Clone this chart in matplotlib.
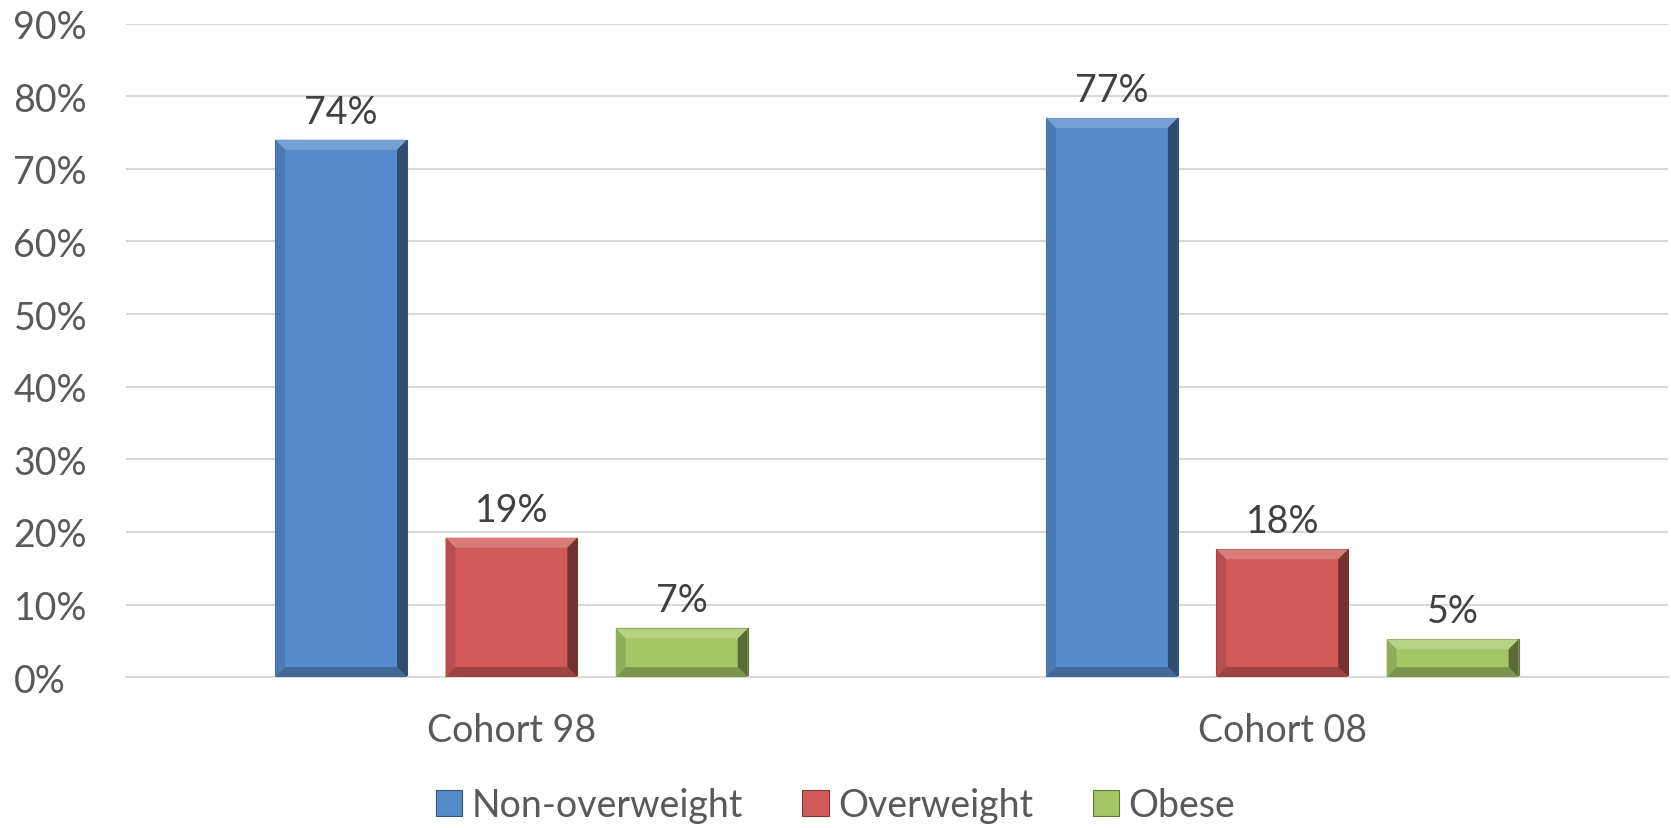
import matplotlib.pyplot as plt
import numpy as np
from matplotlib.patches import Polygon
from matplotlib.colors import to_rgb

plt.rcParams['font.family'] = ['Lato', 'DejaVu Sans']

cohorts = ["Cohort 98", "Cohort 08"]
series = ["Non-overweight", "Overweight", "Obese"]
non_overweight = [0.74, 0.77]
overweight = [0.192, 0.176]
obese = [0.067, 0.052]
labels = [["74%", "77%"], ["19%", "18%"], ["7%", "5%"]]
colors = ["#558ACB", "#CF5A57", "#A4C665"]

text_col = "#595959"

fig = plt.figure(figsize=(16.71, 8.29), dpi=100)
ax = fig.add_axes([0.0754, 0.182, 0.9226, 0.7884])

x = np.arange(len(cohorts))
width = 0.171
step = 0.221


def shade(c, f):
    r, g, b = to_rgb(c)
    if f > 1:
        return tuple(v + (1 - v) * (f - 1) for v in (r, g, b))
    return tuple(v * f for v in (r, g, b))


def bevel(ax, rect, color):
    # fake the excel bevel with four trapezoids
    x0, y0 = rect.get_x(), rect.get_y()
    w, h = rect.get_width(), rect.get_height()
    bx = w * 0.075
    by = 0.9 / 654 * 10
    by = min(by, h / 2)
    x1, y1 = x0 + w, y0 + h
    parts = [
        ([(x0, y1), (x1, y1), (x1 - bx, y1 - by), (x0 + bx, y1 - by)], shade(color, 1.2)),
        ([(x0, y0), (x0, y1), (x0 + bx, y1 - by), (x0 + bx, y0 + by)], shade(color, 0.88)),
        ([(x1, y0), (x1, y1), (x1 - bx, y1 - by), (x1 - bx, y0 + by)], shade(color, 0.55)),
        ([(x0, y0), (x1, y0), (x1 - bx, y0 + by), (x0 + bx, y0 + by)], shade(color, 0.75)),
    ]
    for pts, c in parts:
        ax.add_patch(Polygon(pts, closed=True, facecolor=c, edgecolor="none", zorder=3))


for i, (vals, name, col) in enumerate(zip([non_overweight, overweight, obese], series, colors)):
    bars = ax.bar(x + (i - 1) * step, vals, width, color=col, label=name, zorder=2,
                  edgecolor=shade(col, 0.6), linewidth=0.8)
    for rect, lab in zip(bars, labels[i]):
        bevel(ax, rect, col)
        ax.text(rect.get_x() + rect.get_width() / 2, rect.get_height() + 0.014, lab,
                ha="center", va="bottom", fontsize=27, color="#404040")

ax.set_xlim(-0.5, 1.5)
ax.set_ylim(0, 0.9)
ax.set_yticks(np.arange(0, 0.91, 0.1))
ax.set_yticklabels([f"{int(round(v * 100))}%" for v in np.arange(0, 0.91, 0.1)])
ax.set_xticks(x)
ax.set_xticklabels(cohorts)
ax.tick_params(axis="both", length=0, labelsize=27, labelcolor=text_col)
ax.tick_params(axis="y", pad=81)
ax.tick_params(axis="x", pad=25)
for lbl in ax.get_yticklabels():
    lbl.set_horizontalalignment("left")
ax.yaxis.grid(True, color="#D9D9D9", linewidth=1.5, zorder=0)
ax.set_axisbelow(True)
for s in ["top", "right", "left"]:
    ax.spines[s].set_visible(False)
ax.spines["bottom"].set_color("#D9D9D9")
ax.spines["bottom"].set_linewidth(1.5)

leg = fig.legend(loc="center", bbox_to_anchor=(0.5, 0.028), ncol=3, frameon=False,
                 fontsize=27, handlelength=0.7, handleheight=0.7, handletextpad=0.25,
                 columnspacing=1.6, labelcolor=text_col)

fig.savefig("out.png", dpi=100)
